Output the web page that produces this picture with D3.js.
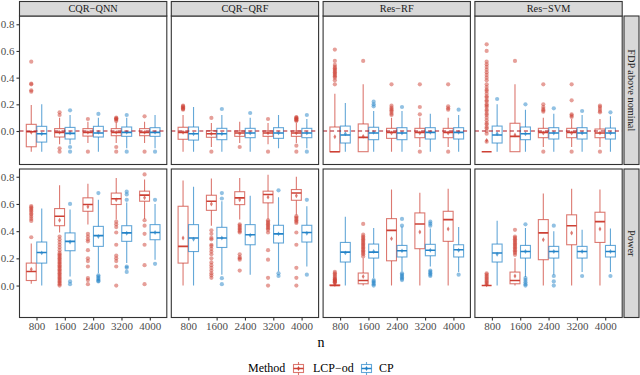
<!DOCTYPE html>
<html><head><meta charset="utf-8">
<script src="https://cdn.jsdelivr.net/npm/d3@7"></script>
<style>body{margin:0;background:#fff}svg{display:block}</style>
</head><body><svg id="c" width="640" height="375"></svg>
<script>
// ---------- data ----------
const nLabels = ["800", "1600", "2400", "3200", "4000"];
const models = ["CQR\u2212QNN", "CQR\u2212QRF", "Res\u2212RF", "Res\u2212SVM"];
const metrics = ["FDP above nominal", "Power"];
const methods = ["LCP\u2212od", "CP"];
const yTicks = [0.0, 0.2, 0.4, 0.6, 0.8];
const nominalLine = 0;

// each box: [lower whisker, Q1, median, Q3, upper whisker, mean]
const fdp_QNN_LCP = [[-0.155,-0.118,-0.005,0.05,0.195,-0.01],[-0.10,-0.045,-0.01,0.018,0.10,-0.01],[-0.09,-0.038,-0.01,0.018,0.07,-0.01],[-0.09,-0.035,-0.01,0.018,0.065,-0.01],[-0.09,-0.035,-0.01,0.018,0.07,-0.01]];
const fdp_QNN_LCP_out = [[0.52,0.355,0.35,0.305,0.295],[0.14,0.12,-0.13,-0.155],[0.09,-0.155],[0.1,0.095,0.09,0.085,0.075,-0.12,-0.155],[0.11,-0.155]];
const fdp_QNN_CP = [[-0.155,-0.083,-0.02,0.035,0.2,-0.02],[-0.1,-0.06,-0.018,0.027,0.12,-0.015],[-0.155,-0.045,-0.015,0.035,0.1,-0.01],[-0.13,-0.04,-0.01,0.03,0.1,-0.01],[-0.13,-0.04,-0.01,0.025,0.12,-0.01]];
const fdp_QNN_CP_out = [[],[0.155,-0.12,-0.155],[0.128],[0.12,-0.155],[-0.155]];

const fdp_QRF_LCP = [[-0.155,-0.062,-0.01,0.028,0.12,-0.01],[-0.12,-0.047,-0.02,0.002,0.06,-0.02],[-0.09,-0.04,-0.015,0.0,0.07,-0.02],[-0.1,-0.04,-0.015,0.0,0.06,-0.015],[-0.09,-0.04,-0.015,0.0,0.06,-0.015]];
const fdp_QRF_LCP_out = [[0.19,0.185,0.178,0.17,0.165,0.16],[0.098,-0.155],[-0.12],[0.09,-0.155],[0.105,0.1,0.095,0.09,0.085,0.08,0.075,-0.11,-0.155]];
const fdp_QRF_CP = [[-0.155,-0.068,-0.02,0.03,0.18,-0.02],[-0.155,-0.065,-0.02,0.02,0.12,-0.02],[-0.155,-0.05,-0.015,0.02,0.1,-0.015],[-0.13,-0.055,-0.015,0.025,0.12,-0.015],[-0.13,-0.05,-0.015,0.02,0.09,-0.015]];
const fdp_QRF_CP_out = [[],[0.165],[0.135],[],[0.12,-0.155]];

const fdp_RF_LCP = [[-0.155,-0.155,-0.155,0.03,0.28,-0.043],[-0.155,-0.155,-0.048,0.053,0.35,-0.04],[-0.155,-0.055,-0.01,0.02,0.1,-0.015],[-0.12,-0.05,-0.01,0.02,0.1,-0.015],[-0.12,-0.05,-0.01,0.02,0.1,-0.015]];
const fdp_RF_LCP_out = [[0.61,0.525,0.495,0.48,0.47,0.46,0.45,0.44,0.43,0.42,0.41,0.40,0.38,0.35],[0.525],[0.35,0.19,0.175,0.165,0.155,0.145,0.13,0.12],[0.35,0.18,0.125,-0.155],[0.35,0.185,0.17,0.16,-0.155]];
const fdp_RF_CP = [[-0.155,-0.09,-0.03,0.037,0.21,-0.02],[-0.155,-0.065,-0.015,0.028,0.15,-0.01],[-0.155,-0.065,-0.015,0.025,0.15,-0.015],[-0.155,-0.06,-0.01,0.025,0.13,-0.01],[-0.155,-0.06,-0.01,0.025,0.12,-0.01]];
const fdp_RF_CP_out = [[],[0.22,0.2,0.185],[0.18],[],[0.16]];

const fdp_SVM_LCP = [[-0.155,-0.155,-0.155,-0.155,-0.155,-0.07],[-0.155,-0.155,-0.04,0.058,0.35,-0.03],[-0.12,-0.05,-0.01,0.02,0.1,-0.015],[-0.12,-0.05,-0.01,0.02,0.09,-0.015],[-0.12,-0.05,-0.015,0.015,0.09,-0.015]];
const fdp_SVM_LCP_out = [[0.65,0.6,0.52,0.5,0.48,0.46,0.44,0.42,0.4,0.38,0.35,0.33,0.31,0.3,0.28,0.26,0.25,0.23,0.22,0.2,0.19,0.18,0.16,0.15,0.13,0.12,0.1,0.08,0.06,0.05,0.03,0.02,0.0,-0.02,-0.08],[0.525],[0.35,0.2,0.18,0.165,0.155,0.145,-0.155],[0.35,0.23,0.125,0.115,0.105,-0.155],[0.19,0.18,0.165,0.15,0.14,-0.155]];
const fdp_SVM_CP = [[-0.155,-0.09,-0.03,0.037,0.2,-0.02],[-0.155,-0.065,-0.02,0.03,0.16,-0.02],[-0.155,-0.06,-0.015,0.025,0.13,-0.015],[-0.155,-0.06,-0.015,0.025,0.12,-0.015],[-0.155,-0.06,-0.015,0.022,0.11,-0.015]];
const fdp_SVM_CP_out = [[0.24],[0.2],[0.17],[0.15],[0.14]];

const pow_QNN_LCP = [[0.013,0.037,0.103,0.165,0.31,0.12],[0.39,0.44,0.51,0.566,0.738,0.48],[0.448,0.546,0.596,0.645,0.748,0.58],[0.485,0.596,0.638,0.68,0.79,0.63],[0.49,0.62,0.665,0.694,0.78,0.645]];
const pow_QNN_LCP_out = [[0.585,0.575,0.565,0.555,0.545,0.53,0.52,0.505,0.49,0.475,0.355],[0.36,0.34,0.32,0.3,0.28,0.26,0.24,0.23,0.22,0.21,0.2,0.19,0.18,0.17,0.16,0.15,0.14,0.13,0.12,0.11,0.1,0.09,0.08,0.07,0.06,0.05,0.04,0.03,0.02,0.01,0.0],[0.38,0.36,0.34,0.325,0.26,0.2,0.18,0.14,0.055,0.04,0.01],[0.47,0.45,0.43,0.39,0.3,0.22,0.2,0.18,0.14,0.0],[0.817,0.48,0.44,0.38,0.3,0.15,0.01]];
const pow_QNN_CP = [[0.0,0.165,0.243,0.32,0.566,0.24],[0.066,0.256,0.325,0.387,0.56,0.32],[0.09,0.288,0.367,0.435,0.63,0.36],[0.165,0.325,0.387,0.44,0.61,0.385],[0.19,0.337,0.39,0.448,0.6,0.39]];
const pow_QNN_CP_out = [[],[0.6,0.03,0.01],[0.68,0.075,0.065,0.055,0.045,0.035,0.03],[0.69,0.67,0.63,0.14,0.13,0.1],[0.63,0.16]];

const pow_QRF_LCP = [[0.0,0.165,0.288,0.583,0.773,0.35],[0.44,0.553,0.62,0.664,0.787,0.6],[0.485,0.595,0.645,0.69,0.79,0.63],[0.49,0.608,0.67,0.694,0.815,0.65],[0.52,0.627,0.68,0.706,0.8,0.66]];
const pow_QRF_LCP_out = [[],[0.406,0.38,0.35,0.34,0.3,0.29,0.27,0.25,0.23,0.2,0.17,0.15,0.13,0.11,0.09,0.075,0.057],[0.45,0.44,0.43,0.42,0.41,0.40,0.39,0.23,0.21,0.2,0.19,0.11],[0.48,0.47,0.46,0.45,0.44,0.43,0.42,0.41,0.39,0.26,0.19,0.057,0.0],[0.51,0.5,0.49,0.48,0.47,0.46,0.39,0.3,0.13,0.057,0.0]];
const pow_QRF_CP = [[0.0,0.25,0.35,0.448,0.726,0.34],[0.079,0.28,0.35,0.428,0.62,0.35],[0.08,0.3,0.374,0.448,0.66,0.37],[0.103,0.313,0.38,0.443,0.65,0.38],[0.14,0.32,0.39,0.443,0.583,0.385]];
const pow_QRF_CP_out = [[],[0.68,0.64,0.054,0.01],[],[0.7,0.09,0.07],[0.63,0.08]];

const pow_RF_LCP = [[0.0,0.0,0.0,0.005,0.012,0.008],[0.0,0.013,0.037,0.092,0.2,0.066],[0.0,0.182,0.406,0.492,0.706,0.345],[0.0,0.271,0.453,0.534,0.682,0.394],[0.0,0.325,0.485,0.546,0.711,0.416]];
const pow_RF_LCP_out = [[0.1,0.09,0.08,0.07,0.06,0.05,0.045,0.04,0.035,0.03,0.025,0.02],[0.453,0.374,0.36,0.35,0.34,0.33,0.32,0.31,0.3,0.29,0.28,0.27,0.26,0.25,0.24,0.23,0.214],[],[],[]];
const pow_RF_CP = [[0.0,0.173,0.246,0.317,0.505,0.24],[0.055,0.202,0.246,0.305,0.424,0.25],[0.103,0.21,0.256,0.295,0.435,0.255],[0.14,0.219,0.26,0.303,0.42,0.26],[0.1,0.21,0.263,0.3,0.43,0.26]];
const pow_RF_CP_out = [[],[0.04,0.03,0.02,0.01,0.0],[0.49,0.44,0.09,0.08,0.07,0.06,0.05,0.04],[0.47,0.455,0.44,0.11,0.1,0.09,0.08,0.07],[0.08]];

const pow_SVM_LCP = [[0.0,0.0,0.0,0.0,0.0,0.005],[0.0,0.013,0.037,0.099,0.2,0.07],[0.0,0.19,0.387,0.485,0.677,0.337],[0.0,0.3,0.44,0.52,0.711,0.387],[0.0,0.317,0.47,0.539,0.706,0.416]];
const pow_SVM_LCP_out = [[0.09,0.08,0.07,0.06,0.05,0.04,0.03,0.02,0.01],[0.41,0.36,0.35,0.34,0.33,0.32,0.31,0.3,0.29,0.28,0.27,0.26,0.25,0.24,0.226],[],[],[]];
const pow_SVM_CP = [[0.0,0.173,0.239,0.305,0.477,0.23],[0.062,0.202,0.25,0.295,0.424,0.25],[0.079,0.202,0.25,0.288,0.4,0.25],[0.1,0.202,0.25,0.288,0.41,0.25],[0.1,0.21,0.25,0.295,0.42,0.25]];
const pow_SVM_CP_out = [[],[0.45,0.055,0.04,0.025,0.01,0.0],[0.44,0.07,0.03,0.0],[0.07],[0.07]];

// facet table built from the arrays: [row][col] -> [[LCP stats, LCP outliers],[CP stats, CP outliers]]
const facets = [
  [[[fdp_QNN_LCP,fdp_QNN_LCP_out],[fdp_QNN_CP,fdp_QNN_CP_out]],
   [[fdp_QRF_LCP,fdp_QRF_LCP_out],[fdp_QRF_CP,fdp_QRF_CP_out]],
   [[fdp_RF_LCP,fdp_RF_LCP_out],[fdp_RF_CP,fdp_RF_CP_out]],
   [[fdp_SVM_LCP,fdp_SVM_LCP_out],[fdp_SVM_CP,fdp_SVM_CP_out]]],
  [[[pow_QNN_LCP,pow_QNN_LCP_out],[pow_QNN_CP,pow_QNN_CP_out]],
   [[pow_QRF_LCP,pow_QRF_LCP_out],[pow_QRF_CP,pow_QRF_CP_out]],
   [[pow_RF_LCP,pow_RF_LCP_out],[pow_RF_CP,pow_RF_CP_out]],
   [[pow_SVM_LCP,pow_SVM_LCP_out],[pow_SVM_CP,pow_SVM_CP_out]]]
];

// ---------- layout ----------
const colors = ["#CD4034", "#2383C8"];
const font = "'Liberation Serif','Times New Roman',serif";
const svg = d3.select("#c");
const panelW = 147.3, gap = 4.5, left0 = 19.5;
const rowTop = [16, 169], panelH = 148.5;
const yDomains = [[-0.251, 0.862], [-0.235, 0.857]];
const stripTop = 1.5, stripRight = [624, 639];

for (let r = 0; r < 2; r++) {
  const y = d3.scaleLinear().domain(yDomains[r]).range([rowTop[r] + panelH, rowTop[r]]);
  for (let c = 0; c < 4; c++) {
    const L = left0 + c * (panelW + gap);
    const x = d3.scalePoint().domain(nLabels).range([L, L + panelW]).padding(0.6);
    const step = x.step();
    const off = 0.185 * step, bw = 0.35 * step;
    const g = svg.append("g");
    g.append("rect").attr("x", L).attr("y", rowTop[r]).attr("width", panelW).attr("height", panelH).attr("fill", "#fff");
    const clip = "clip" + r + c;
    svg.append("clipPath").attr("id", clip).append("rect").attr("x", L).attr("y", rowTop[r]).attr("width", panelW).attr("height", panelH);
    const inner = g.append("g").attr("clip-path", "url(#" + clip + ")");
    facets[r][c].forEach(([stats, outs], m) => {
      const col = colors[m];
      stats.forEach((s, i) => {
        const cx = x(nLabels[i]) + (m === 0 ? -off : off);
        const [lo, q1, med, q3, hi, mean] = s;
        const bg = inner.append("g");
        // outliers
        bg.selectAll("circle").data(outs[i]).join("circle")
          .attr("cx", cx).attr("cy", d => y(d)).attr("r", 2.1)
          .attr("fill", col).attr("fill-opacity", 0.5);
        // whiskers
        bg.append("line").attr("x1", cx).attr("x2", cx).attr("y1", y(q3)).attr("y2", y(hi))
          .attr("stroke", col).attr("stroke-opacity", 0.7).attr("stroke-width", 1.1);
        bg.append("line").attr("x1", cx).attr("x2", cx).attr("y1", y(q1)).attr("y2", y(lo))
          .attr("stroke", col).attr("stroke-opacity", 0.7).attr("stroke-width", 1.1);
        // box
        bg.append("rect").attr("x", cx - bw / 2).attr("width", bw)
          .attr("y", y(q3)).attr("height", Math.max(0, y(q1) - y(q3)))
          .attr("fill", "#fff").attr("fill-opacity", 0.6)
          .attr("stroke", col).attr("stroke-opacity", 0.7).attr("stroke-width", 1.1);
        // median
        bg.append("line").attr("x1", cx - bw / 2).attr("x2", cx + bw / 2).attr("y1", y(med)).attr("y2", y(med))
          .attr("stroke", col).attr("stroke-width", 1.6);
        // mean
        bg.append("path").attr("d", d3.symbol(d3.symbolDiamond, 7)())
          .attr("transform", `translate(${cx},${y(mean)})`)
          .attr("fill", col).attr("fill-opacity", 0.7);
      });
    });
    if (r === 0) {
      inner.append("line").attr("x1", L).attr("x2", L + panelW).attr("y1", y(nominalLine)).attr("y2", y(nominalLine))
        .attr("stroke", "#B0141E").attr("stroke-width", 1.1).attr("stroke-dasharray", "4,3");
    }
    g.append("rect").attr("x", L).attr("y", rowTop[r]).attr("width", panelW).attr("height", panelH)
      .attr("fill", "none").attr("stroke", "#333").attr("stroke-width", 1.1);
    // top strips
    if (r === 0) {
      g.append("rect").attr("x", L).attr("y", stripTop).attr("width", panelW).attr("height", rowTop[0] - stripTop)
        .attr("fill", "#D9D9D9").attr("stroke", "#333").attr("stroke-width", 1.1);
      g.append("text").attr("x", L + panelW / 2).attr("y", (stripTop + rowTop[0]) / 2).attr("dy", "0.35em")
        .attr("text-anchor", "middle").attr("font-family", font).attr("font-size", 10.3).attr("fill", "#1a1a1a")
        .text(models[c]);
    }
    // y axis on first column
    if (c === 0) {
      const ax = svg.append("g").attr("transform", `translate(${L},0)`)
        .call(d3.axisLeft(y).tickValues(yTicks).tickFormat(d3.format(".1f")).tickSize(3).tickPadding(2));
      ax.select(".domain").remove();
      ax.selectAll("line").attr("stroke", "#333").attr("stroke-width", 1.1);
      ax.selectAll("text").attr("font-family", font).attr("font-size", 11).attr("fill", "#4d4d4d");
    }
    // x axis on bottom row
    if (r === 1) {
      const ax = svg.append("g").attr("transform", `translate(0,${rowTop[1] + panelH})`)
        .call(d3.axisBottom(x).tickSize(3).tickPadding(2));
      ax.select(".domain").remove();
      ax.selectAll("line").attr("stroke", "#333").attr("stroke-width", 1.1);
      ax.selectAll("text").attr("font-family", font).attr("font-size", 11).attr("fill", "#4d4d4d");
    }
  }
  // right strip
  svg.append("rect").attr("x", stripRight[0]).attr("y", rowTop[r]).attr("width", stripRight[1] - stripRight[0]).attr("height", panelH)
    .attr("fill", "#D9D9D9").attr("stroke", "#333").attr("stroke-width", 1.1);
  const cxs = (stripRight[0] + stripRight[1]) / 2, cys = rowTop[r] + panelH / 2;
  svg.append("text").attr("transform", `translate(${cxs},${cys}) rotate(90)`).attr("dy", "0.35em")
    .attr("text-anchor", "middle").attr("font-family", font).attr("font-size", 10.3).attr("fill", "#1a1a1a")
    .text(metrics[r]);
}

// x title
svg.append("text").attr("x", 321).attr("y", 347).attr("text-anchor", "middle")
  .attr("font-family", font).attr("font-size", 14).attr("fill", "#000").text("n");

// legend
const lg = svg.append("g").attr("font-family", font).attr("font-size", 12).attr("fill", "#000");
lg.append("text").attr("x", 248).attr("y", 372).text("Method");
const keyX = [293, 361], labX = [313, 379];
methods.forEach((m, i) => {
  const kx = keyX[i] + 5.5, col = colors[i];
  lg.append("line").attr("x1", kx).attr("x2", kx).attr("y1", 362).attr("y2", 375).attr("stroke", col).attr("stroke-opacity", 0.7).attr("stroke-width", 1.1);
  lg.append("rect").attr("x", kx - 5).attr("y", 364.5).attr("width", 10).attr("height", 8).attr("fill", "#fff").attr("stroke", col).attr("stroke-opacity", 0.7).attr("stroke-width", 1.1);
  lg.append("line").attr("x1", kx - 5).attr("x2", kx + 5).attr("y1", 368.5).attr("y2", 368.5).attr("stroke", col).attr("stroke-width", 1.5);
  lg.append("path").attr("d", d3.symbol(d3.symbolDiamond, 7)()).attr("transform", `translate(${kx},368.5)`).attr("fill", col);
  lg.append("text").attr("x", labX[i]).attr("y", 372).text(m);
});
</script></body></html>
